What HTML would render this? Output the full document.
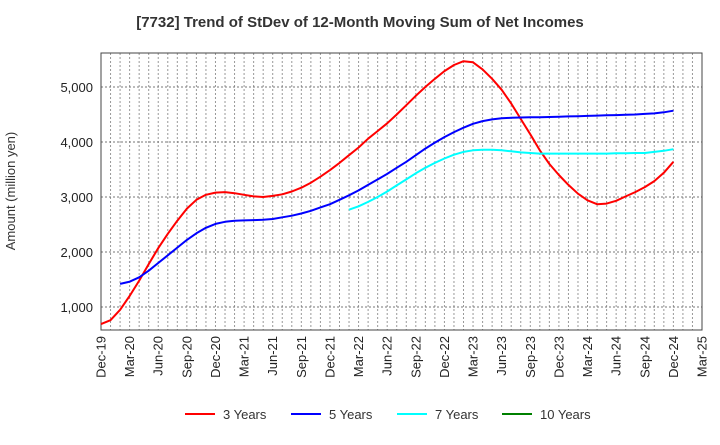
<!DOCTYPE html>
<html><head><meta charset="utf-8"><style>
body{margin:0;background:#fff;font-family:"Liberation Sans",sans-serif;}
</style></head><body>
<svg width="720" height="440" xmlns="http://www.w3.org/2000/svg" font-family="Liberation Sans, sans-serif">
<text x="360" y="27" text-anchor="middle" font-size="15" font-weight="bold" fill="#333">[7732]  Trend of StDev of 12-Month Moving Sum of Net Incomes</text>
<text transform="translate(15,191) rotate(-90)" text-anchor="middle" font-size="13" fill="#333">Amount (million yen)</text>
<g id="grid"></g><g id="axes"></g><g id="series"></g><g id="legend"></g>
</svg>
<script>
const xLabels=["Dec-19","Mar-20","Jun-20","Sep-20","Dec-20","Mar-21","Jun-21","Sep-21","Dec-21","Mar-22","Jun-22","Sep-22","Dec-22","Mar-23","Jun-23","Sep-23","Dec-23","Mar-24","Jun-24","Sep-24","Dec-24","Mar-25"];
const yTicks=[1000,2000,3000,4000,5000];
const s3=[690,760,950,1200,1480,1780,2070,2330,2570,2790,2950,3040,3080,3090,3070,3040,3010,3000,3020,3050,3100,3170,3260,3370,3490,3620,3760,3900,4060,4200,4340,4500,4670,4840,5000,5150,5290,5400,5470,5450,5320,5150,4950,4700,4420,4140,3850,3600,3400,3220,3060,2940,2870,2880,2930,3010,3090,3180,3290,3440,3640];
const s5=[null,null,1420,1460,1540,1660,1800,1940,2080,2220,2340,2440,2510,2550,2570,2575,2580,2585,2600,2630,2660,2700,2750,2810,2870,2950,3030,3120,3220,3320,3420,3530,3640,3760,3880,3990,4090,4180,4260,4330,4380,4410,4430,4440,4445,4450,4450,4455,4460,4465,4470,4475,4480,4485,4490,4495,4500,4510,4520,4540,4570];
const s7=[null,null,null,null,null,null,null,null,null,null,null,null,null,null,null,null,null,null,null,null,null,null,null,null,null,null,2770,2830,2910,3000,3100,3210,3320,3430,3530,3620,3700,3770,3820,3850,3860,3860,3850,3830,3810,3800,3790,3790,3790,3790,3790,3790,3790,3790,3795,3795,3800,3800,3820,3840,3870];
const s10=[];
const seriesNames=["3 Years","5 Years","7 Years","10 Years"];
const colors=["#ff0000","#0000ff","#00ffff","#008000"];
const L=101,R=702,T=53,B=330,NM=63;
const X=i=>L+i*(R-L)/NM;
const Y=v=>307-(v-1000)*55/1000;
const NS="http://www.w3.org/2000/svg";
function mk(t,a,p){const e=document.createElementNS(NS,t);for(const k in a)e.setAttribute(k,a[k]);p.appendChild(e);return e;}
const grid=document.getElementById('grid'),axes=document.getElementById('axes'),ser=document.getElementById('series'),leg=document.getElementById('legend');
for(let m=1;m<NM;m++){const g=mk('line',{x1:X(m),x2:X(m),y1:T,y2:B,stroke:'#999','stroke-dasharray':'2,2','stroke-width':1},grid);

}
yTicks.forEach(v=>{const g=mk('line',{x1:L,x2:R,y1:Y(v),y2:Y(v),stroke:'#777','stroke-dasharray':'2,2','stroke-width':1},grid);


const t=mk('text',{x:L-8,y:Y(v)+5,'text-anchor':'end','font-size':13,fill:'#222'},axes);t.textContent=v.toLocaleString('en-US');

});
xLabels.forEach((s,i)=>{const x=X(i*3);const t=mk('text',{transform:`translate(${x+4.5},${B+6}) rotate(-90)`,'text-anchor':'end','font-size':13,fill:'#222'},axes);t.textContent=s;

});
const fr=mk('rect',{x:L,y:T,width:R-L,height:B-T,fill:'none',stroke:'#444','stroke-width':1},axes);


[s3,s5,s7,s10].forEach((d,k)=>{const pts=[];d.forEach((v,i)=>{if(v!=null)pts.push(X(i).toFixed(1)+','+Y(v).toFixed(1));});
if(pts.length){const p=mk('polyline',{points:pts.join(' '),fill:'none',stroke:colors[k],'stroke-width':2,'stroke-linejoin':'round'},ser);

}});
const lx=[185,291,397,502];
seriesNames.forEach((n,k)=>{const g=mk('g',{},leg);


mk('line',{x1:lx[k],x2:lx[k]+30,y1:414,y2:414,stroke:colors[k],'stroke-width':2},g);
const t=mk('text',{x:lx[k]+38,y:419,'font-size':13,fill:'#333'},g);t.textContent=n;});
</script>
</body></html>
